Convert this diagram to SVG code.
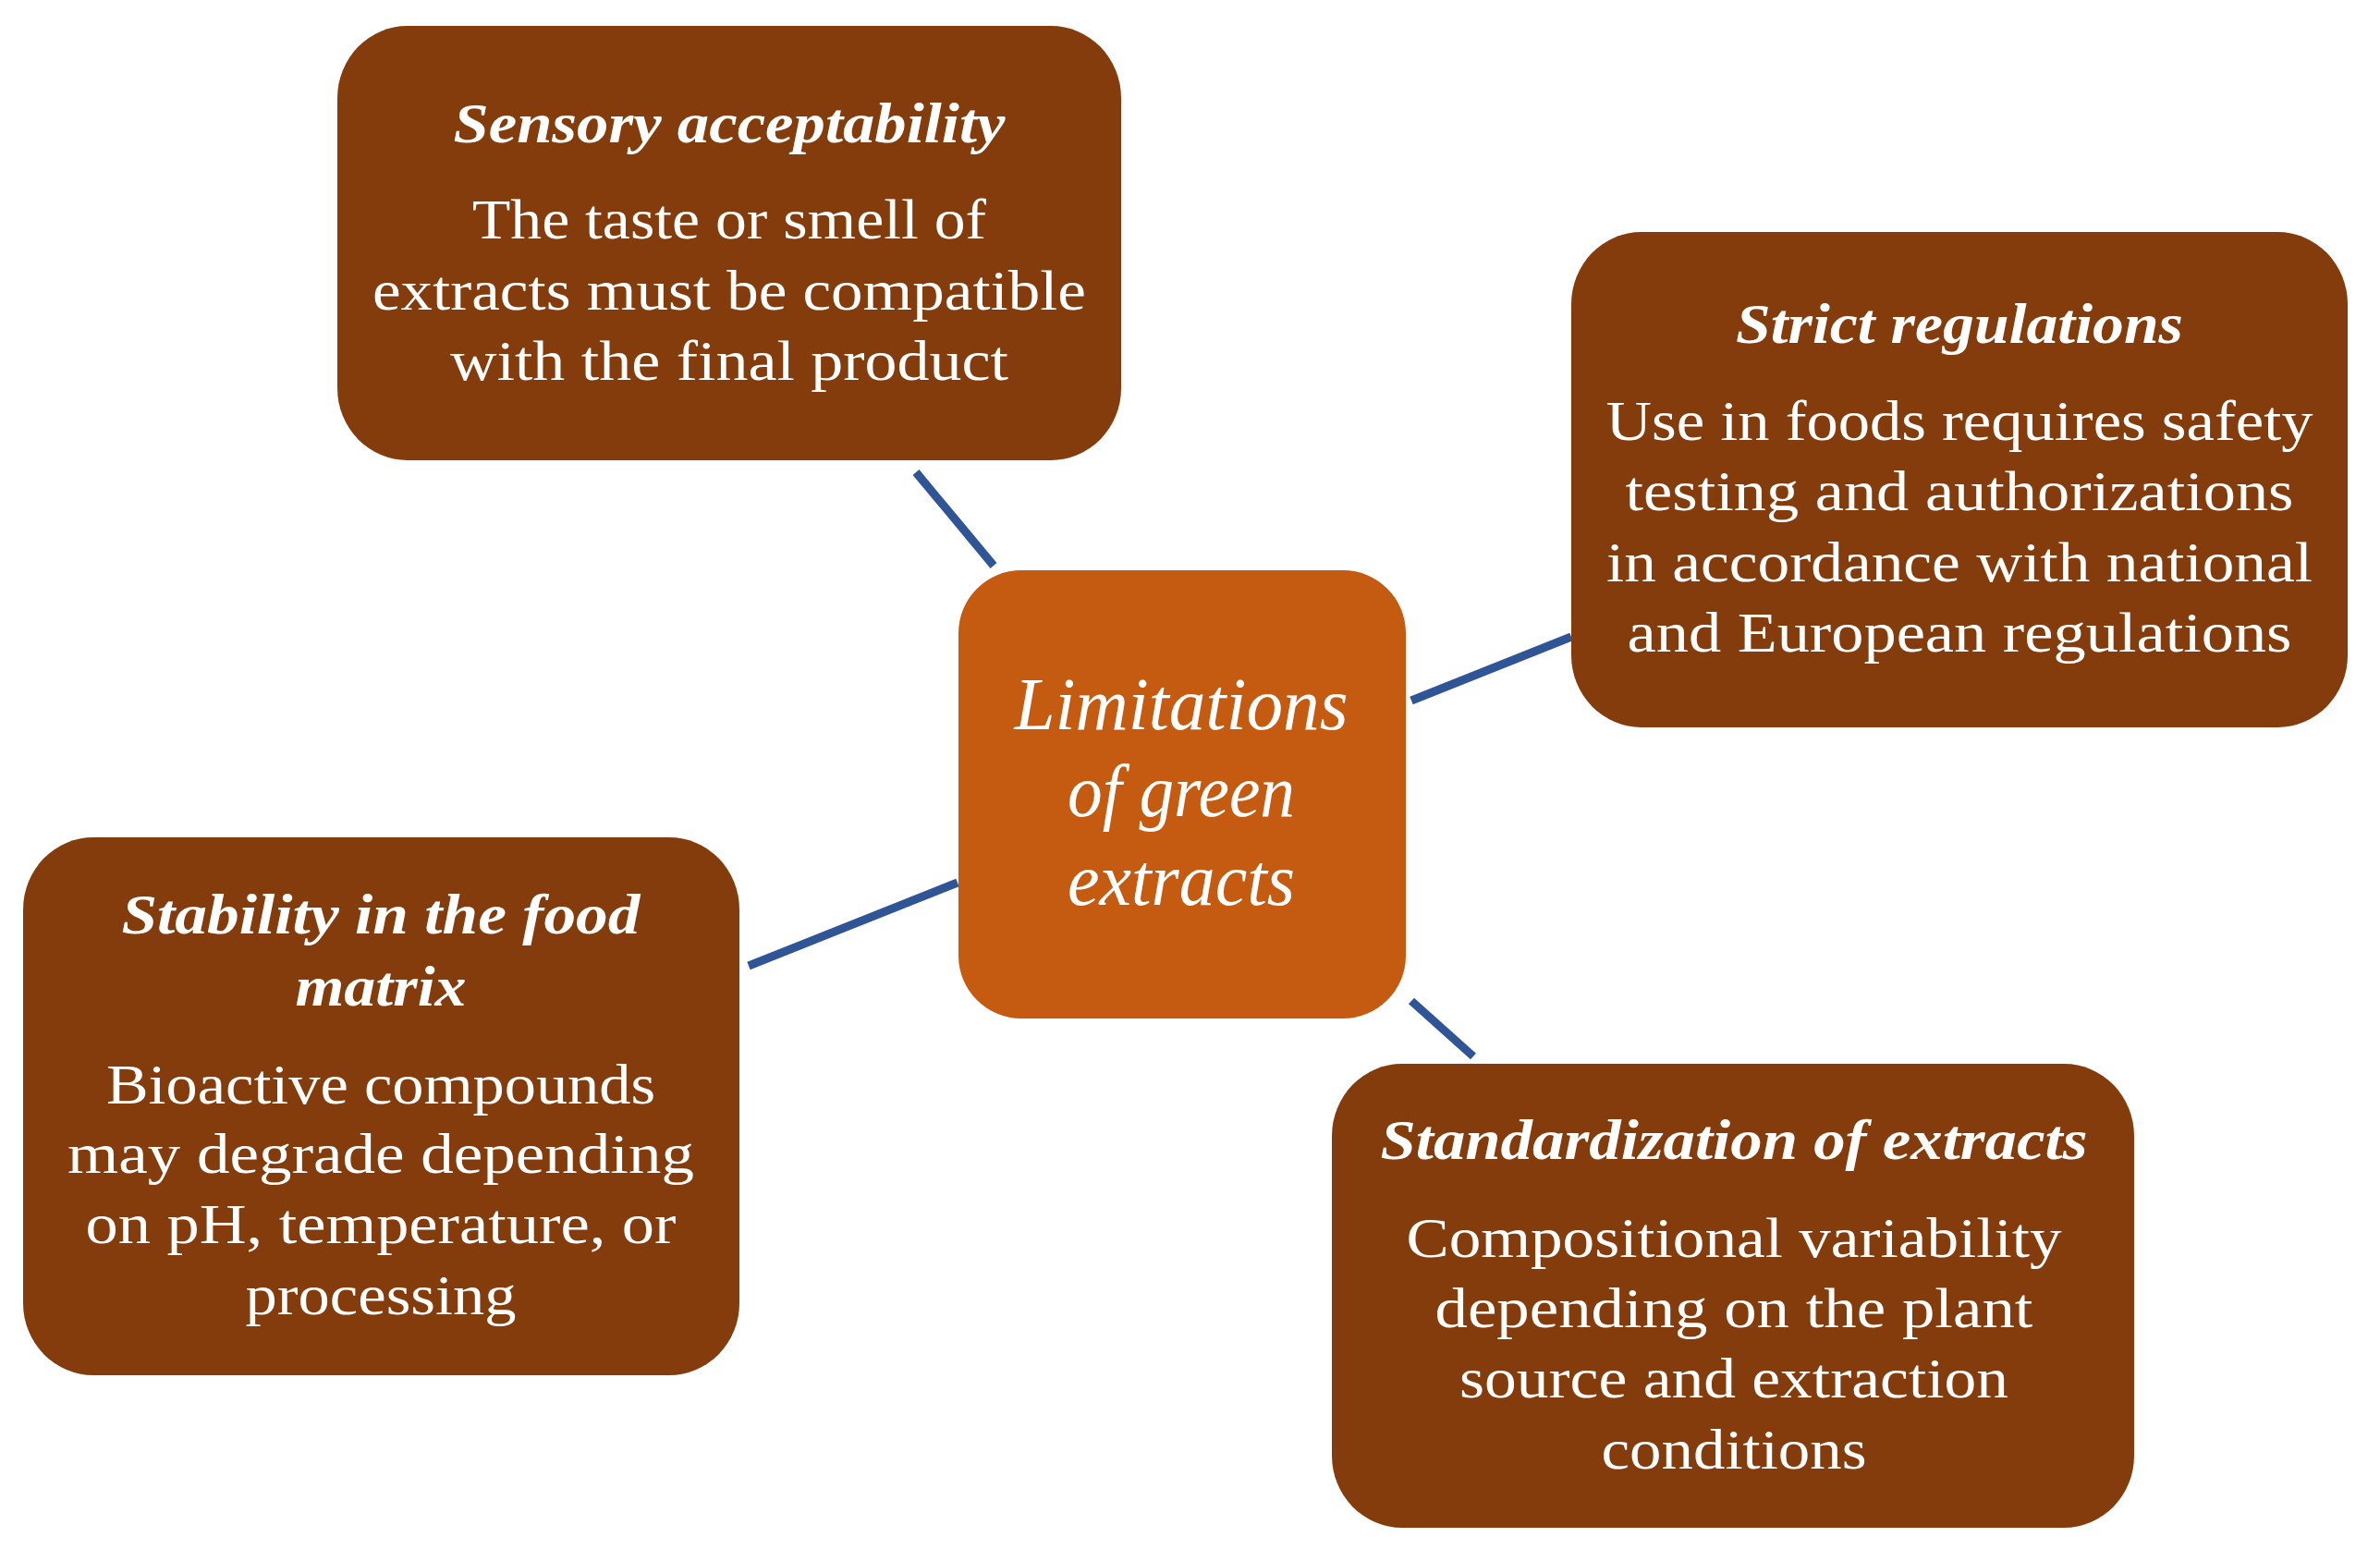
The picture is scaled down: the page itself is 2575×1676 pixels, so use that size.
<svg xmlns="http://www.w3.org/2000/svg" width="2575" height="1676" viewBox="0 0 2575 1676">
<style>
.box{fill:#843C0C}
.center{fill:#C55A11}
.conn{stroke:#2F5597;stroke-width:9;fill:none}
text{font-family:"Liberation Serif","DejaVu Serif",serif;fill:#FFFFFF;text-anchor:middle}
.title{font-size:62px;font-weight:bold;font-style:italic}
.body{font-size:62px}
.ctext{font-size:80px;font-style:italic}
</style>
<rect width="2575" height="1676" fill="#FFFFFF"/>
<g id="connectors">
<line class="conn" x1="991" y1="511" x2="1075" y2="612"/>
<line class="conn" x1="1527" y1="758" x2="1700" y2="689"/>
<line class="conn" x1="810" y1="1045" x2="1036" y2="955"/>
<line class="conn" x1="1527" y1="1083" x2="1594" y2="1143"/>
</g>
<g id="center">
<rect class="center" x="1037" y="617" width="484" height="485" rx="68" ry="68"/>
<text class="ctext" x="1278" y="789" textLength="361" lengthAdjust="spacingAndGlyphs">Limitations</text>
<text class="ctext" x="1278" y="883" textLength="246" lengthAdjust="spacingAndGlyphs">of green</text>
<text class="ctext" x="1278" y="979" textLength="246" lengthAdjust="spacingAndGlyphs">extracts</text>
</g>
<g id="sensory">
<rect class="box" x="365" y="28" width="848" height="470" rx="76" ry="78"/>
<text class="title" x="789" y="154" textLength="597" lengthAdjust="spacingAndGlyphs">Sensory acceptability</text>
<text class="body" x="789" y="258" textLength="556" lengthAdjust="spacingAndGlyphs">The taste or smell of</text>
<text class="body" x="789" y="335" textLength="772" lengthAdjust="spacingAndGlyphs">extracts must be compatible</text>
<text class="body" x="789" y="411" textLength="604" lengthAdjust="spacingAndGlyphs">with the final product</text>
</g>
<g id="regulations">
<rect class="box" x="1700" y="251" width="840" height="536" rx="76" ry="78"/>
<text class="title" x="2120" y="371" textLength="484" lengthAdjust="spacingAndGlyphs">Strict regulations</text>
<text class="body" x="2120" y="476" textLength="765" lengthAdjust="spacingAndGlyphs">Use in foods requires safety</text>
<text class="body" x="2120" y="552" textLength="723" lengthAdjust="spacingAndGlyphs">testing and authorizations</text>
<text class="body" x="2120" y="629" textLength="764" lengthAdjust="spacingAndGlyphs">in accordance with national</text>
<text class="body" x="2120" y="705" textLength="719" lengthAdjust="spacingAndGlyphs">and European regulations</text>
</g>
<g id="stability">
<rect class="box" x="25" y="906" width="775" height="582" rx="76" ry="78"/>
<text class="title" x="412" y="1010" textLength="561" lengthAdjust="spacingAndGlyphs">Stability in the food</text>
<text class="title" x="412" y="1088" textLength="185" lengthAdjust="spacingAndGlyphs">matrix</text>
<text class="body" x="412" y="1194" textLength="594" lengthAdjust="spacingAndGlyphs">Bioactive compounds</text>
<text class="body" x="412" y="1269" textLength="678" lengthAdjust="spacingAndGlyphs">may degrade depending</text>
<text class="body" x="412" y="1345" textLength="639" lengthAdjust="spacingAndGlyphs">on pH, temperature, or</text>
<text class="body" x="412" y="1422" textLength="293" lengthAdjust="spacingAndGlyphs">processing</text>
</g>
<g id="standardization">
<rect class="box" x="1441" y="1151" width="868" height="502" rx="76" ry="78"/>
<text class="title" x="1876" y="1254" textLength="765" lengthAdjust="spacingAndGlyphs">Standardization of extracts</text>
<text class="body" x="1876" y="1360" textLength="709" lengthAdjust="spacingAndGlyphs">Compositional variability</text>
<text class="body" x="1876" y="1436" textLength="647" lengthAdjust="spacingAndGlyphs">depending on the plant</text>
<text class="body" x="1876" y="1512" textLength="594" lengthAdjust="spacingAndGlyphs">source and extraction</text>
<text class="body" x="1876" y="1589" textLength="287" lengthAdjust="spacingAndGlyphs">conditions</text>
</g>
</svg>
